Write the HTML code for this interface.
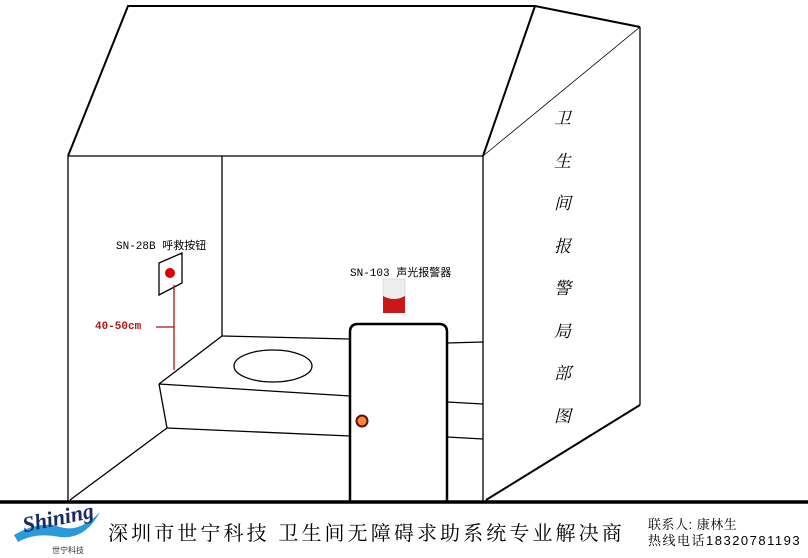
<!DOCTYPE html>
<html><head><meta charset="utf-8"><style>
html,body{margin:0;padding:0;background:#fff;width:808px;height:558px;overflow:hidden;position:relative}
.t{position:absolute;white-space:nowrap;line-height:1}
</style></head><body>
<svg width="808" height="558" style="position:absolute;left:0;top:0">
<g fill="none" stroke="#000" stroke-width="1.3">
<path d="M68,156 L128,6 L535,6 L640,27" stroke-width="2"/>
<path d="M483,156 L535,6" stroke-width="2"/>
<line x1="483" y1="156" x2="640" y2="27" stroke-width="0.8"/>
<line x1="68" y1="156" x2="483" y2="156"/>
<line x1="68" y1="156" x2="68" y2="501"/>
<line x1="483" y1="156" x2="483" y2="501"/>
<line x1="222" y1="156" x2="222" y2="336"/>
<line x1="640" y1="27" x2="640" y2="405"/>
<line x1="640" y1="405" x2="486" y2="500" stroke-width="2"/>
<line x1="222" y1="336" x2="350" y2="339"/>
<line x1="222" y1="336" x2="159" y2="384"/>
<line x1="159" y1="384" x2="350" y2="396"/>
<line x1="159" y1="384" x2="167" y2="428"/>
<line x1="167" y1="428" x2="350" y2="436"/>
<line x1="167" y1="428" x2="70" y2="500"/>
<ellipse cx="273" cy="366" rx="39" ry="16"/>
<line x1="447" y1="343" x2="483" y2="342"/>
<line x1="447" y1="402" x2="483" y2="404"/>
<line x1="447" y1="437" x2="483" y2="439"/>
<path d="M350,501 L350,332 Q350,324 358,324 L439,324 Q447,324 447,332 L447,501" stroke-width="2.5"/>
<polygon points="159,263 182,253 182,283 159,295"/>
</g>
<circle cx="170" cy="273" r="5" fill="#e00000"/>
<line x1="174" y1="285" x2="174" y2="370" stroke="#b01010" stroke-width="1.3"/>
<line x1="156" y1="327" x2="174" y2="327" stroke="#b01010" stroke-width="1.3"/>
<circle cx="362" cy="421" r="5.5" fill="#f28a3c" stroke="#6a0a0a" stroke-width="2"/>
<rect x="383" y="279" width="22" height="20" fill="#eee" stroke="#ccc" stroke-width="0.6"/>
<path d="M383,296 Q394,302 405,296 L405,313 L383,313 Z" fill="#c81818"/>
<line x1="0" y1="502" x2="808" y2="502" stroke="#000" stroke-width="3.5"/>
<path d="M14,535 Q40,520 60,527 Q80,533 100,512 Q85,540 60,537 Q35,532 18,542 Z" fill="#2a9ad8"/>
</svg>
<div class="t" style="left:116px;top:237px;font:11px 'Liberation Mono','Noto Sans CJK SC',monospace">SN-28B 呼救按钮</div>
<div class="t" style="left:350px;top:264px;font:11px 'Liberation Mono','Noto Sans CJK SC',monospace">SN-103 声光报警器</div>
<div class="t" style="left:95px;top:321px;font:bold 11px 'Liberation Mono',monospace;color:#b01818">40-50cm</div>
<div class="t" style="left:554px;top:96px;width:18px;font:italic 17px 'Noto Serif CJK SC',serif;line-height:42.5px;white-space:normal">卫 生 间 报 警 局 部 图</div>
<div class="t" style="left:22px;top:505px;font:italic bold 22px 'Liberation Serif',serif;color:#1a2a60;transform:rotate(-12deg)">Shining</div>
<div class="t" style="left:52px;top:545px;font:8px 'Noto Sans CJK SC',sans-serif;color:#333">世宁科技</div>
<div class="t" style="left:108px;top:517px;font:20px 'Liberation Sans','Noto Serif CJK SC',serif;letter-spacing:3.1px">深圳市世宁科技 卫生间无障碍求助系统专业解决商</div>
<div class="t" style="left:648px;top:514px;font:13px 'Liberation Sans','Noto Serif CJK SC',serif;letter-spacing:0.5px">联系人: 康林生</div>
<div class="t" style="left:648px;top:530px;font:13px 'Liberation Sans','Noto Serif CJK SC',serif;letter-spacing:1.5px">热线电话18320781193</div>
</body></html>
